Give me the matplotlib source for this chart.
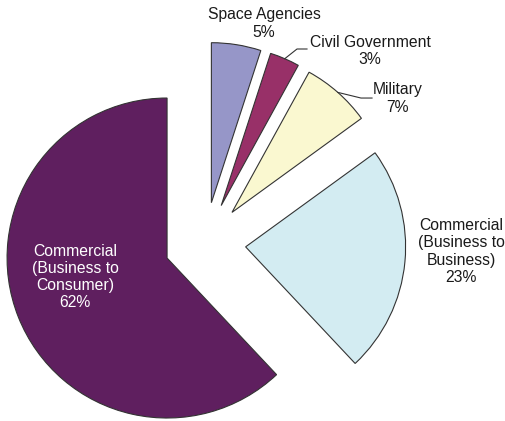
import matplotlib.pyplot as plt
import numpy as np

plt.rcParams['font.family'] = ['Liberation Sans', 'DejaVu Sans']

# market segments, counter-clockwise from 12 o'clock
segments = ['Commercial\n(Business to\nConsumer)', 'Commercial\n(Business to\nBusiness)',
            'Military', 'Civil Government', 'Space Agencies']
shares = [62, 23, 7, 3, 5]
colors = ['#5f1f5f', '#d3ecf2', '#faf8d0', '#983068', '#9696c8']

R = 160.0  # pie radius in pixels, used to scale the canvas
explode = [0.255] * len(shares)

fig = plt.figure(figsize=(5.05, 4.21), dpi=100)
ax = fig.add_axes([0, 0, 1, 1])
wedges, _ = ax.pie(shares, colors=colors, explode=explode, startangle=90,
                   counterclock=True, radius=1,
                   wedgeprops=dict(edgecolor='#333333', linewidth=0.8))
ax.set_xlim(-205 / R, 300 / R)
ax.set_ylim(-178 / R, 243 / R)
ax.set_aspect('auto')
ax.axis('off')

# label anchors (pie units)
label_pos = [(-0.8125, -0.2125), (1.60, -0.053), (1.203, 0.903),
             (1.031, 1.200), (0.369, 1.372)]
label_color = ['white', '#1a1a1a', '#1a1a1a', '#1a1a1a', '#1a1a1a']
for name, val, (x, y), c in zip(segments, shares, label_pos, label_color):
    ax.text(x, y, f'{name}\n{val}%', ha='center', va='center',
            fontsize=11.3, color=c, linespacing=1.18)

# leader lines for the two thin slices
leaders = {2: [(0.975, 0.906), (1.044, 0.906)],
           3: [(0.575, 1.2125), (0.6375, 1.2125)]}
for i, pts in leaders.items():
    w = wedges[i]
    mid = np.deg2rad((w.theta1 + w.theta2) / 2)
    cx, cy = w.center
    start = (cx + w.r * np.cos(mid), cy + w.r * np.sin(mid))
    xs = [start[0]] + [p[0] for p in pts]
    ys = [start[1]] + [p[1] for p in pts]
    ax.plot(xs, ys, color='#333333', lw=0.8)

fig.savefig('out.png', dpi=100)
